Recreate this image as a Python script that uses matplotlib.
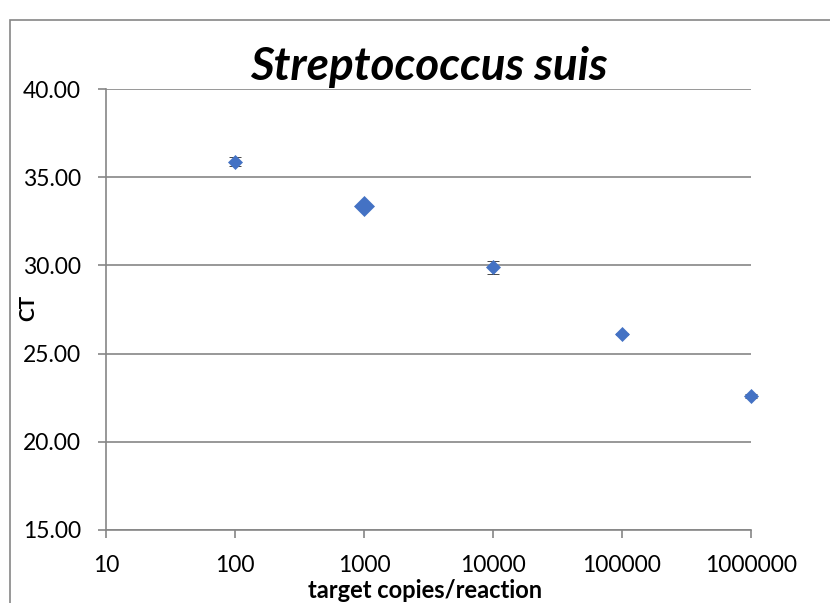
import numpy as np
import matplotlib.pyplot as plt
from matplotlib.patches import Rectangle

# data
copies = [100, 1000, 10000, 100000, 1000000]
ct_mean = [35.87, 33.38, 29.89, 26.13, 22.61]
ct_err = [0.26, 0.0, 0.38, 0.05, 0.1]
marker_size = [7.5, 10.5, 7.5, 7.5, 7.5]

y_ticks = [15, 20, 25, 30, 35, 40]
x_ticks = [10, 100, 1000, 10000, 100000, 1000000]

plt.rcParams['font.family'] = ['Lato', 'DejaVu Sans']

W, H = 830, 603
fig = plt.figure(figsize=(W / 100, H / 100), dpi=100)
ax = fig.add_axes([106 / W, 1 - 530 / H, (751 - 106) / W, (530 - 89) / H])

grey = '#868686'
blue = '#4472C4'

for x, y, e, s in zip(copies, ct_mean, ct_err, marker_size):
    ax.errorbar(x, y, yerr=e, fmt='D', color=blue, markersize=s, markeredgewidth=0.5,
                ecolor='black', elinewidth=1, capsize=4.5, capthick=1.2, zorder=3,
                clip_on=False)

ax.set_xscale('log')
ax.set_xlim(10, 1000000)
ax.set_ylim(15, 40)
ax.set_xticks(x_ticks)
ax.set_xticklabels([str(v) for v in x_ticks])
ax.minorticks_off()
ax.set_yticks(y_ticks)
ax.set_yticklabels(['%.2f' % v for v in y_ticks])

ax.yaxis.grid(True, color=grey, linewidth=1.2)
ax.set_axisbelow(True)
for side in ['top', 'right']:
    ax.spines[side].set_visible(False)
for side in ['left', 'bottom']:
    ax.spines[side].set_color(grey)
    ax.spines[side].set_linewidth(1.2)
ax.tick_params(axis='both', colors=grey, labelcolor='black', labelsize=16.5, length=6, width=1.2)
ax.tick_params(axis='x', pad=12)
ax.tick_params(axis='y', pad=12)

ax.set_title('Streptococcus suis', fontsize=33, fontweight='bold', fontstyle='italic', pad=6.5)
fig.text(425 / W, 5 / H, 'target copies/reaction', fontsize=17, fontweight='bold',
         ha='center', va='baseline')
fig.text(28 / W, 1 - 308 / H, 'CT', fontsize=15, fontweight='bold', rotation=90,
         ha='center', va='center')

# chart area border (cut off at right and bottom like the original)
fig.patches.append(Rectangle((10 / W, -0.1), 1.2, 1 - 20 / H + 0.1, transform=fig.transFigure,
                             fill=False, edgecolor=grey, linewidth=1.2))

plt.savefig('out.png', dpi=100)
